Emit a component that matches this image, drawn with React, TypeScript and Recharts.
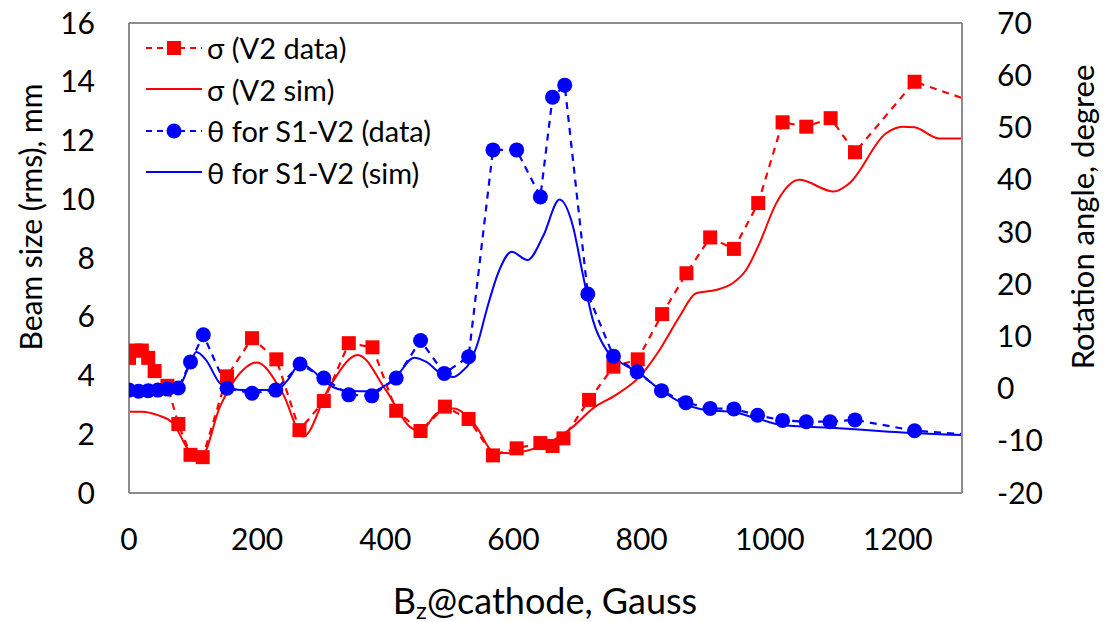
import React from "react";
import { ComposedChart, Line, XAxis, YAxis, Legend, ReferenceLine } from "recharts";

const FONT = "Lato, 'Open Sans', sans-serif";
const RED = "#FF0000";
const BLUE = "#0000FF";
const FRAME = "#8C8C8C";

// x ticks (Gauss) and y ticks
const xTicks = [0, 200, 400, 600, 800, 1000, 1200];
const leftTicks = [0, 2, 4, 6, 8, 10, 12, 14, 16];
const rightTicks = [-20, -10, 0, 10, 20, 30, 40, 50, 60, 70];

// sigma (V2 data), mm
const sigmaDataBz = [0, 10, 20, 30, 40, 60, 77, 96, 115, 153, 192, 230, 266, 304, 343, 380, 417, 455, 493, 530, 568, 605, 642, 661, 678, 718, 756, 794, 832, 870, 907, 944, 982, 1020, 1057, 1095, 1133, 1226, 1340];
const sigmaDataVal = [4.6, 4.85, 4.85, 4.6, 4.15, 3.65, 2.35, 1.3, 1.22, 3.97, 5.27, 4.55, 2.14, 3.13, 5.1, 4.96, 2.8, 2.11, 2.94, 2.52, 1.28, 1.52, 1.7, 1.6, 1.86, 3.17, 4.3, 4.55, 6.09, 7.48, 8.7, 8.31, 9.87, 12.62, 12.47, 12.76, 11.6, 14.0, 13.15];

// sigma (V2 sim), mm
const sigmaSimBz = [0, 20, 45, 69, 95, 113, 142, 178, 199, 240, 272, 313, 357, 401, 438, 455, 480, 506, 542, 568, 594, 646, 672, 693, 724, 760, 797, 828, 859, 885, 916, 942, 963, 984, 1010, 1046, 1100, 1124, 1181, 1207, 1226, 1264, 1300];
const sigmaSimVal = [2.77, 2.77, 2.65, 2.37, 1.41, 1.24, 2.94, 4.19, 4.44, 3.39, 1.92, 3.62, 4.7, 3.5, 2.26, 2.1, 2.71, 2.88, 2.26, 1.41, 1.35, 1.63, 1.92, 2.26, 2.88, 3.34, 3.96, 4.87, 6.0, 6.8, 6.91, 7.14, 7.59, 8.5, 9.86, 10.66, 10.26, 10.54, 12.24, 12.47, 12.45, 12.07, 12.07];

// theta for S1-V2 (data), degree
const thetaDataBz = [0, 15, 30, 45, 60, 77, 96, 116, 153, 192, 229, 267, 304, 343, 379, 417, 455, 492, 530, 568, 605, 642, 661, 680, 716, 756, 793, 831, 869, 907, 944, 981, 1020, 1057, 1094, 1133, 1226, 1340];
const thetaDataVal = [-0.3, -0.5, -0.4, -0.3, -0.1, 0.1, 5.1, 10.3, 0.05, -0.9, -0.3, 4.7, 2.0, -1.2, -1.4, 2.0, 9.2, 2.9, 6.1, 45.7, 45.7, 36.7, 55.8, 58.1, 18.1, 6.2, 3.2, -0.4, -2.7, -3.8, -3.9, -5.1, -6.1, -6.35, -6.35, -6.0, -8.07, -9.07];

// theta for S1-V2 (sim), degree
const thetaSimBz = [0, 40, 77, 96, 105, 120, 142, 160, 178, 230, 250, 267, 285, 303, 320, 334, 360, 380, 400, 417, 445, 464, 490, 506, 520, 532, 545, 558, 578, 597, 622, 646, 672, 693, 708, 724, 745, 766, 797, 823, 859, 900, 943, 979, 1020, 1108, 1186, 1300];
const thetaSimVal = [-0.3, -0.3, 0.3, 5.0, 7.0, 5.5, 1.0, 0.0, -0.3, -0.3, 2.0, 4.84, 3.6, 1.64, 0.2, -0.3, -0.5, -0.5, 0.6, 2.27, 5.9, 5.1, 2.6, 2.2, 3.3, 5.0, 9.0, 15.0, 22.7, 26.2, 24.6, 29.1, 36.2, 31.0, 22.0, 13.1, 7.4, 5.14, 2.9, 0.35, -2.5, -4.1, -4.5, -5.7, -7.0, -7.6, -8.26, -8.9];

const toPoints = (xs: number[], ys: number[]) => xs.map((g, i) => ({ g, v: ys[i] }));

const sigmaData = toPoints(sigmaDataBz, sigmaDataVal);
const sigmaSim = toPoints(sigmaSimBz, sigmaSimVal);
const thetaData = toPoints(thetaDataBz, thetaDataVal);
const thetaSim = toPoints(thetaSimBz, thetaSimVal);

const legendItems = [
  { label: "σ (V2 data)", color: RED, dashed: true, marker: "square" },
  { label: "σ (V2 sim)", color: RED, dashed: false, marker: "none" },
  { label: "θ for S1-V2 (data)", color: BLUE, dashed: true, marker: "circle" },
  { label: "θ for S1-V2 (sim)", color: BLUE, dashed: false, marker: "none" },
];

const SquareDot = (props: any) => {
  const { cx, cy } = props;
  if (cx == null || cy == null) return null;
  return <rect x={cx - 7} y={cy - 7} width={14} height={14} fill={RED} />;
};

const CircleDot = (props: any) => {
  const { cx, cy } = props;
  if (cx == null || cy == null) return null;
  return <circle cx={cx} cy={cy} r={7.5} fill={BLUE} />;
};

const LegendContent = () => (
  <div style={{ fontFamily: FONT, fontSize: 29, color: "#000", whiteSpace: "nowrap" }}>
    {legendItems.map((it) => (
      <div key={it.label} style={{ display: "flex", alignItems: "center", height: 41.5 }}>
        <svg width={56} height={20} style={{ marginRight: 5 }}>
          <line
            x1={0}
            y1={10}
            x2={56}
            y2={10}
            stroke={it.color}
            strokeWidth={2}
            strokeDasharray={it.dashed ? "6 5" : undefined}
          />
          {it.marker === "square" && <rect x={21} y={3} width={14} height={14} fill={it.color} />}
          {it.marker === "circle" && <circle cx={28} cy={10} r={7.5} fill={it.color} />}
        </svg>
        <span>{it.label}</span>
      </div>
    ))}
  </div>
);

const LeftTitle = () => (
  <text x={30} y={217} transform="rotate(-90 30 217)" textAnchor="middle" dominantBaseline="central" fontSize={30} fill="#000">
    Beam size (rms), mm
  </text>
);

const RightTitle = () => (
  <text x={1082} y={217} transform="rotate(-90 1082 217)" textAnchor="middle" dominantBaseline="central" fontSize={31} fill="#000">
    Rotation angle, degree
  </text>
);

const BottomTitle = () => (
  <text x={545} y={600} textAnchor="middle" dominantBaseline="central" fontSize={36} fill="#000">
    B<tspan fontSize={24} dy={9}>z</tspan>
    <tspan dy={-9}>@cathode, Gauss</tspan>
  </text>
);

export default function App() {
  return (
    <div style={{ position: "absolute", left: 0, top: 0, width: 1107, height: 622, background: "#fff", fontFamily: FONT }}>
      <ComposedChart width={1107} height={622} margin={{ top: 23, right: 0, bottom: 0, left: 0 }}>
        <XAxis
          dataKey="g"
          type="number"
          domain={[0, 1300]}
          ticks={xTicks}
          allowDataOverflow
          height={129}
          tickLine={false}
          tickSize={0}
          tickMargin={36}
          axisLine={{ stroke: FRAME, strokeWidth: 2 }}
          tick={{ fontSize: 30, fill: "#000" }}
          label={{ content: BottomTitle }}
        />
        <YAxis
          yAxisId="left"
          domain={[0, 16]}
          ticks={leftTicks}
          width={129}
          tickLine={false}
          tickSize={0}
          tickMargin={34}
          axisLine={{ stroke: FRAME, strokeWidth: 2 }}
          tick={{ fontSize: 30, fill: "#000" }}
          label={{ content: LeftTitle }}
        />
        <YAxis
          yAxisId="right"
          orientation="right"
          domain={[-20, 70]}
          ticks={rightTicks}
          width={145}
          tickLine={false}
          tickSize={0}
          tickMargin={35}
          axisLine={{ stroke: FRAME, strokeWidth: 2 }}
          tick={{ fontSize: 30, fill: "#000", textAnchor: "start" }}
          label={{ content: RightTitle }}
        />
        <ReferenceLine yAxisId="left" y={16} stroke={FRAME} strokeWidth={2} />
        <Line
          yAxisId="left"
          data={sigmaSim}
          dataKey="v"
          type="monotone"
          stroke={RED}
          strokeWidth={2}
          dot={false}
          activeDot={false}
          isAnimationActive={false}
        />
        <Line
          yAxisId="right"
          data={thetaSim}
          dataKey="v"
          type="monotone"
          stroke={BLUE}
          strokeWidth={2}
          dot={false}
          activeDot={false}
          isAnimationActive={false}
        />
        <Line
          yAxisId="left"
          data={sigmaData}
          dataKey="v"
          type="linear"
          stroke={RED}
          strokeWidth={2.2}
          strokeDasharray="7 6"
          dot={<SquareDot />}
          activeDot={false}
          isAnimationActive={false}
        />
        <Line
          yAxisId="right"
          data={thetaData}
          dataKey="v"
          type="linear"
          stroke={BLUE}
          strokeWidth={2.2}
          strokeDasharray="7 6"
          dot={<CircleDot />}
          activeDot={false}
          isAnimationActive={false}
        />
        <Legend
          layout="vertical"
          align="center"
          verticalAlign="middle"
          wrapperStyle={{ left: 146, top: 27, width: "auto" }}
          content={<LegendContent />}
        />
      </ComposedChart>
    </div>
  );
}
